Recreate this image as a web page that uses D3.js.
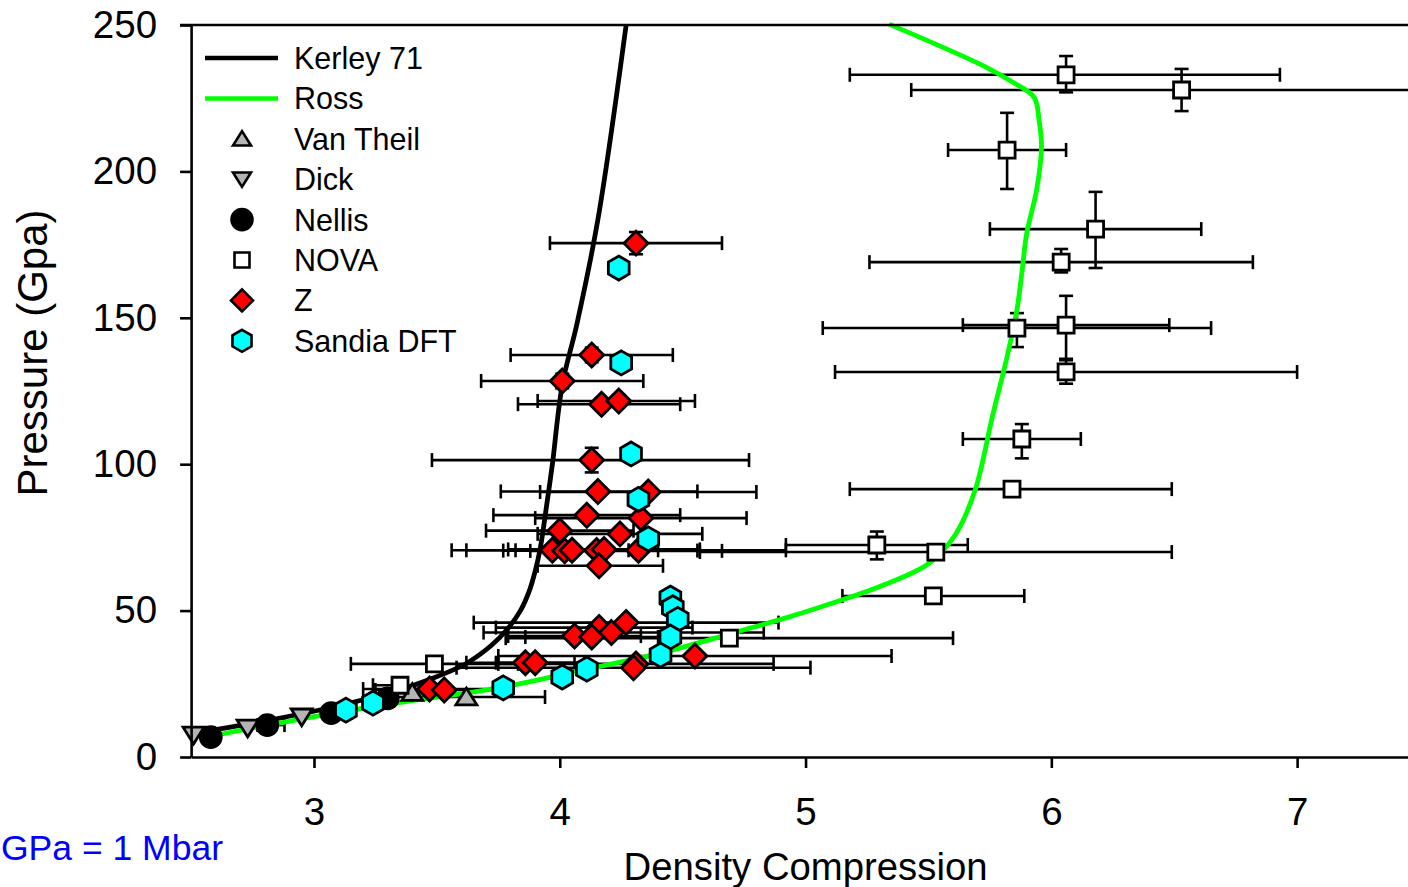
<!DOCTYPE html>
<html>
<head>
<meta charset="utf-8">
<script src="https://cdn.jsdelivr.net/npm/d3@7"></script>
<style>
  html, body { margin: 0; padding: 0; background: #ffffff; overflow: hidden; }
  svg { display: block; }
  text { font-family: "Liberation Sans", Arial, Helvetica, sans-serif; }
</style>
</head>
<body>
<svg id="chart" width="1408" height="887"></svg>
<script>
// ---------------- DATA ----------------
const xTicks = [3, 4, 5, 6, 7];
const yTicks = [0, 50, 100, 150, 200, 250];

// Kerley 71 model curve: [density compression, pressure GPa]
const kerley71 = [
  [2.51, 8.0], [2.60, 9.3], [2.82, 12.6], [3.10, 17.5], [3.34, 22.8], [3.47, 26.5],
  [3.61, 31.5], [3.72, 38.0], [3.79, 44.0], [3.84, 50.0], [3.875, 56.5], [3.90, 63.5],
  [3.92, 71.0], [3.95, 88.0], [3.97, 100.0], [4.01, 127.0], [4.07, 148.0],
  [4.155, 183.5], [4.27, 250.0]
];

// Ross model curve
const ross = [
  [2.55, 6.3], [2.59, 7.2], [3.23, 17.1], [3.77, 23.9], [4.11, 30.0], [4.41, 35.5],
  [4.79, 44.4], [4.92, 47.5], [5.11, 52.6], [5.31, 58.5], [5.50, 66.0], [5.61, 76.0],
  [5.69, 91.2], [5.76, 116.2], [5.82, 136.7], [5.86, 152.7], [5.88, 165.3],
  [5.90, 178.9], [5.94, 193.6], [5.96, 208.4], [5.95, 217.5], [5.93, 225.3],
  [5.84, 230.6], [5.73, 235.8], [5.34, 250.3]
];

// Points: [density, pressure, xLow, xHigh, pLow, pHigh] (null = no bar)
const vanTheil = [
  [3.40, 22.0, null, null, null, null],
  [3.62, 20.5, 3.30, 3.94, null, null]
];
const dick = [
  [2.51, 7.5, null, null, null, null],
  [2.73, 9.9, null, null, null, null],
  [2.95, 13.7, null, null, null, null]
];
const nellis = [
  [2.58, 6.8, null, null, null, null],
  [2.81, 10.9, 2.77, 2.88, null, null],
  [3.07, 15.0, null, null, null, null],
  [3.30, 20.0, null, null, null, null]
];
const nova = [
  [6.06, 233.0, 5.18, 6.93, 227.0, 239.4],
  [6.53, 227.8, 5.43, 7.63, 220.6, 235.0],
  [5.82, 207.3, 5.58, 6.06, 194.0, 220.0],
  [6.18, 180.3, 5.75, 6.61, 167.0, 193.0],
  [6.04, 169.0, 5.26, 6.82, 165.5, 173.5],
  [5.86, 146.5, 5.07, 6.65, 140.0, 151.6],
  [6.06, 147.5, 5.64, 6.48, 136.0, 157.5],
  [6.06, 131.5, 5.12, 7.00, 127.5, 135.5],
  [5.88, 108.6, 5.64, 6.12, 102.0, 113.7],
  [5.84, 91.5, 5.18, 6.49, null, null],
  [5.29, 72.4, 4.92, 5.66, 67.5, 77.0],
  [5.53, 70.0, 4.57, 6.49, null, null],
  [5.52, 55.0, 5.15, 5.89, null, null],
  [4.69, 40.6, 3.78, 5.60, null, null],
  [3.49, 31.8, 3.15, 3.83, null, null],
  [3.35, 24.5, 3.24, 3.46, null, null]
];
const zData = [
  [4.31, 175.5, 3.96, 4.66, 171.7, 179.3],
  [4.13, 137.3, 3.80, 4.46, 134.8, 139.8],
  [4.01, 128.4, 3.68, 4.34, 125.9, 130.9],
  [4.17, 120.5, 3.83, 4.49, 118.5, 122.5],
  [4.24, 121.6, 3.91, 4.55, 119.6, 123.6],
  [4.13, 101.4, 3.48, 4.77, 97.2, 105.6],
  [4.155, 90.7, 3.76, 4.56, null, null],
  [4.36, 90.5, 3.92, 4.80, null, null],
  [4.11, 82.6, 3.73, 4.49, null, null],
  [4.33, 81.6, 3.90, 4.76, null, null],
  [4.00, 77.3, 3.70, 4.30, null, null],
  [4.245, 76.2, 3.91, 4.58, null, null],
  [3.97, 70.6, 3.56, 4.40, null, null],
  [4.02, 70.4, 3.88, 4.66, null, null],
  [4.05, 70.6, 3.82, 4.28, null, null],
  [4.15, 70.5, 3.77, 4.56, null, null],
  [4.18, 70.9, 3.79, 4.57, null, null],
  [4.32, 70.6, 3.62, 4.92, null, null],
  [4.16, 65.3, 3.91, 4.42, null, null],
  [4.27, 45.9, 3.65, 4.89, null, null],
  [4.16, 44.2, 3.74, 4.54, null, null],
  [4.21, 42.5, 3.69, 4.83, null, null],
  [4.06, 41.3, 3.79, 4.33, null, null],
  [4.13, 41.0, 3.86, 4.40, null, null],
  [4.55, 34.5, 3.75, 5.35, null, null],
  [3.86, 32.2, 3.62, 4.10, null, null],
  [3.90, 32.2, 3.74, 4.06, null, null],
  [4.31, 31.8, 3.75, 4.87, null, null],
  [4.30, 30.5, 3.58, 5.02, null, null],
  [3.47, 23.2, 3.20, 3.74, null, null],
  [3.53, 22.9, 3.25, 3.80, null, null]
];
const sandiaDFT = [
  [4.24, 167.0], [4.25, 134.6], [4.29, 103.5], [4.32, 88.0], [4.36, 74.5],
  [4.45, 54.3], [4.46, 51.0], [4.48, 47.0], [4.45, 41.0], [4.41, 34.8],
  [4.11, 30.0], [4.01, 27.3], [3.77, 23.6], [3.24, 18.4], [3.13, 16.0]
];

const legendLabels = ["Kerley 71", "Ross", "Van Theil", "Dick", "Nellis", "NOVA", "Z", "Sandia DFT"];
const xTitle = "Density Compression";
const yTitle = "Pressure (Gpa)";
const noteText = "GPa = 1 Mbar";

// ---------------- CHART ----------------
const svg = d3.select("#chart");
const x = d3.scaleLinear().domain([2.5, 7.5]).range([191.1, 1420]);
const y = d3.scaleLinear().domain([0, 250]).range([757, 25]);

const AX = 2.6;

// marker shapes
function shapePath(kind, s) {
  const p = d3.path();
  if (kind === "square") {
    p.rect(-s, -s, 2 * s, 2 * s);
  } else if (kind === "diamond") {
    p.moveTo(0, -s); p.lineTo(s, 0); p.lineTo(0, s); p.lineTo(-s, 0); p.closePath();
  } else if (kind === "hexagon") {
    for (let i = 0; i < 6; i++) {
      const a = -Math.PI / 2 + i * Math.PI / 3;
      const px = s * Math.cos(a), py = s * Math.sin(a);
      if (i === 0) p.moveTo(px, py); else p.lineTo(px, py);
    }
    p.closePath();
  } else if (kind === "triUp") {
    p.moveTo(0, -s * 0.85); p.lineTo(s, s * 0.75); p.lineTo(-s, s * 0.75); p.closePath();
  } else if (kind === "triDown") {
    p.moveTo(0, s * 0.85); p.lineTo(s, -s * 0.75); p.lineTo(-s, -s * 0.75); p.closePath();
  } else if (kind === "circle") {
    p.arc(0, 0, s, 0, 2 * Math.PI);
  }
  return p.toString();
}

const series = [
  { data: vanTheil, kind: "triUp", size: 10.5, fill: "#b4b4b4" },
  { data: dick, kind: "triDown", size: 10.5, fill: "#b4b4b4" },
  { data: nellis, kind: "circle", size: 10.5, fill: "#000000" },
  { data: nova, kind: "square", size: 8, fill: "#ffffff" },
  { data: zData, kind: "diamond", size: 12, fill: "#ff0000" },
  { data: sandiaDFT, kind: "hexagon", size: 12, fill: "#00ffff" }
];

// error bars
const eb = svg.append("g").attr("stroke", "#000").attr("stroke-width", 2.6).attr("fill", "none");
const cap = 7;
series.forEach(s => {
  s.data.forEach(d => {
    const cx = x(d[0]), cy = y(d[1]);
    if (d[2] != null && d[3] != null) {
      const x0 = x(d[2]), x1 = x(d[3]);
      eb.append("line").attr("x1", x0).attr("x2", x1).attr("y1", cy).attr("y2", cy);
      eb.append("line").attr("x1", x0).attr("x2", x0).attr("y1", cy - cap).attr("y2", cy + cap);
      eb.append("line").attr("x1", x1).attr("x2", x1).attr("y1", cy - cap).attr("y2", cy + cap);
    }
    if (d[4] != null && d[5] != null) {
      const y0 = y(d[4]), y1 = y(d[5]);
      eb.append("line").attr("x1", cx).attr("x2", cx).attr("y1", y0).attr("y2", y1);
      eb.append("line").attr("x1", cx - cap).attr("x2", cx + cap).attr("y1", y0).attr("y2", y0);
      eb.append("line").attr("x1", cx - cap).attr("x2", cx + cap).attr("y1", y1).attr("y2", y1);
    }
  });
});

// model lines
const smooth = d3.line().x(d => x(d[0])).y(d => y(d[1])).curve(d3.curveCatmullRom.alpha(0.5));
svg.append("path").datum(kerley71).attr("d", smooth)
  .attr("fill", "none").attr("stroke", "#000").attr("stroke-width", 4.8).attr("stroke-linejoin", "round");
svg.append("path").datum(ross).attr("d", smooth)
  .attr("fill", "none").attr("stroke", "#00ff00").attr("stroke-width", 4.8).attr("stroke-linejoin", "round");

// markers
series.forEach(s => {
  svg.append("g").selectAll("path").data(s.data).join("path")
    .attr("transform", d => `translate(${x(d[0])},${y(d[1])})`)
    .attr("d", shapePath(s.kind, s.size))
    .attr("fill", s.fill).attr("stroke", "#000").attr("stroke-width", 2.8);
});

// axes
const yAxis = d3.axisLeft(y).tickValues(yTicks).tickSize(11).tickSizeOuter(0).tickPadding(23);
const gy = svg.append("g").attr("transform", "translate(191.1,0)").call(yAxis);
gy.selectAll("text").attr("font-size", 38.5).attr("fill", "#000")
  .attr("font-family", "'Liberation Sans', Arial, sans-serif");
gy.selectAll("line").attr("stroke", "#000").attr("stroke-width", AX);
gy.select(".domain").attr("stroke", "#000").attr("stroke-width", AX);

const xAxis = d3.axisBottom(x).tickValues(xTicks).tickFormat(d3.format("d")).tickSize(11).tickSizeOuter(0).tickPadding(30);
const gx = svg.append("g").attr("transform", "translate(0,757)").call(xAxis);
gx.selectAll("text").attr("font-size", 38.5).attr("fill", "#000")
  .attr("font-family", "'Liberation Sans', Arial, sans-serif");
gx.selectAll("line").attr("stroke", "#000").attr("stroke-width", AX);
gx.select(".domain").attr("stroke", "#000").attr("stroke-width", AX);

// top frame line
svg.append("line").attr("x1", 180).attr("x2", 1420).attr("y1", y(250)).attr("y2", y(250))
  .attr("stroke", "#000").attr("stroke-width", AX);

// titles
svg.append("text").attr("x", x(5)).attr("y", 880).attr("text-anchor", "middle")
  .attr("font-size", 38.3).attr("fill", "#000").text(xTitle);
svg.append("text").attr("transform", "translate(47,353) rotate(-90)").attr("text-anchor", "middle")
  .attr("font-size", 42).attr("fill", "#000").text(yTitle);
svg.append("text").attr("x", 1).attr("y", 860).attr("text-anchor", "start")
  .attr("font-size", 35.5).attr("fill", "#0000ff").text(noteText);

// legend
const legendKinds = [
  { type: "line", color: "#000" },
  { type: "line", color: "#00ff00" },
  { type: "marker", kind: "triUp", size: 9, fill: "#b4b4b4" },
  { type: "marker", kind: "triDown", size: 9, fill: "#b4b4b4" },
  { type: "marker", kind: "circle", size: 10.5, fill: "#000" },
  { type: "marker", kind: "square", size: 7.5, fill: "#fff" },
  { type: "marker", kind: "diamond", size: 11, fill: "#ff0000" },
  { type: "marker", kind: "hexagon", size: 11, fill: "#00ffff" }
];
const lg = svg.append("g");
legendLabels.forEach((label, i) => {
  const ry = 58 + i * 40.4;
  const k = legendKinds[i];
  if (k.type === "line") {
    lg.append("line").attr("x1", 205).attr("x2", 278).attr("y1", ry).attr("y2", ry)
      .attr("stroke", k.color).attr("stroke-width", 4.5);
  } else {
    lg.append("path").attr("transform", `translate(242,${ry})`).attr("d", shapePath(k.kind, k.size))
      .attr("fill", k.fill).attr("stroke", "#000").attr("stroke-width", 2.6);
  }
  lg.append("text").attr("x", 294).attr("y", ry + 11).attr("font-size", 30.5).attr("fill", "#000").text(label);
});
</script>
</body>
</html>
